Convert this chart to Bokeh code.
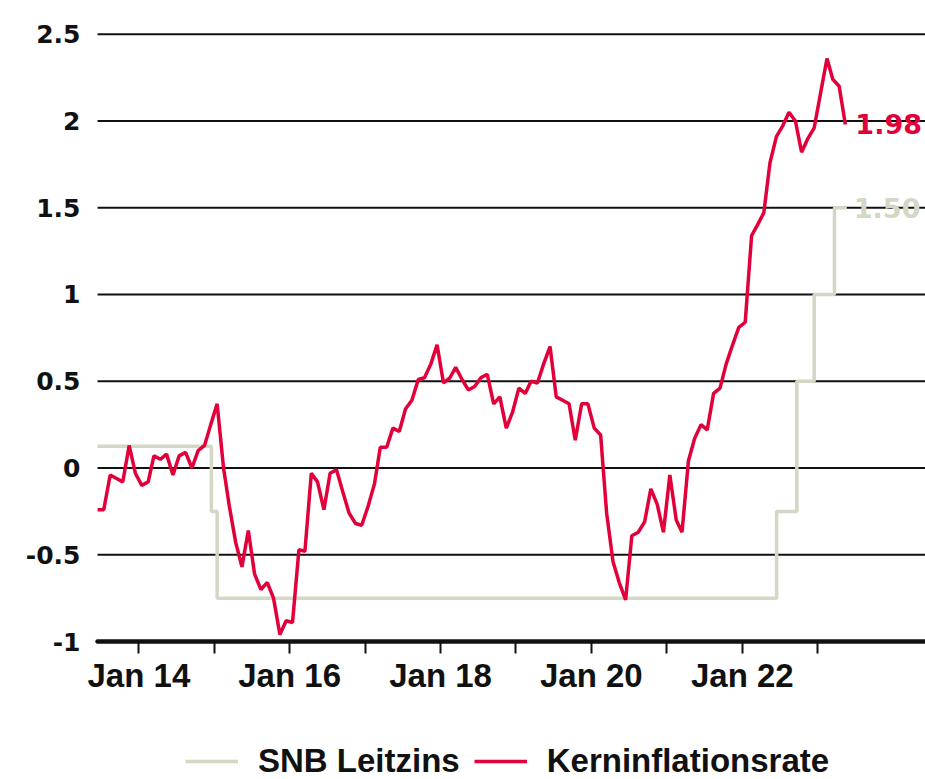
import pandas as pd
from bokeh.plotting import figure
from bokeh.models import FixedTicker, Legend, LegendItem, Range1d, DatetimeAxis
from bokeh.embed import file_html
from bokeh.resources import INLINE
from bokeh.core.properties import value

# ---------------- data ----------------
core_start = "2013-06-01"   # monthly values, plotted mid-month
core_inflation = [
    -0.24, -0.24, -0.04, -0.06, -0.08, 0.13, -0.03,                                   # 2013 Jun-Dec
    -0.10, -0.08, 0.07, 0.05, 0.08, -0.04, 0.07, 0.09, 0.00, 0.10, 0.13, 0.25,          # 2014
    0.37, 0.00, -0.22, -0.43, -0.57, -0.36, -0.61, -0.70, -0.66, -0.75, -0.96, -0.88,   # 2015
    -0.89, -0.47, -0.48, -0.03, -0.08, -0.24, -0.03, -0.01, -0.14, -0.26, -0.32, -0.33, # 2016
    -0.22, -0.09, 0.12, 0.12, 0.23, 0.21, 0.34, 0.39, 0.51, 0.52, 0.60, 0.71,           # 2017
    0.49, 0.52, 0.58, 0.51, 0.45, 0.47, 0.52, 0.54, 0.37, 0.41, 0.23, 0.32,             # 2018
    0.46, 0.43, 0.50, 0.49, 0.60, 0.70, 0.41, 0.39, 0.37, 0.16, 0.37, 0.37,             # 2019
    0.23, 0.19, -0.26, -0.54, -0.66, -0.76, -0.39, -0.37, -0.31, -0.12, -0.21, -0.37,   # 2020
    -0.04, -0.30, -0.37, 0.04, 0.17, 0.25, 0.22, 0.43, 0.46, 0.60, 0.71, 0.81,          # 2021
    0.84, 1.34, 1.40, 1.47, 1.76, 1.91, 1.97, 2.05, 2.00, 1.82, 1.90, 1.96,             # 2022
    2.16, 2.36, 2.24, 2.20, 1.98,                                                       # 2023 Jan-May
]
snb_dates = ["2013-06-15", "2014-12-18", "2015-01-15", "2022-06-16",
             "2022-09-22", "2022-12-15", "2023-03-23", "2023-05-22"]
snb_rate = [0.125, -0.25, -0.75, -0.25, 0.5, 1.0, 1.5, 1.5]

tick_years = [2014, 2015, 2016, 2017, 2018, 2019, 2020, 2021, 2022, 2023]
tick_labels = ["Jan 14", "", "Jan 16", "", "Jan 18", "", "Jan 20", "", "Jan 22", ""]
y_ticks = [-1, -0.5, 0, 0.5, 1, 1.5, 2, 2.5]
y_tick_labels = ["-1", "-0.5", "0", "0.5", "1", "1.5", "2", "2.5"]
x_start, x_end = "2013-04-03", "2024-06-06"
y_axis_floor = -1.0
y_start, y_end = -1.795, 2.55   # extra room below the axis for tick labels and legend

series_names = ["SNB Leitzins", "Kerninflationsrate"]

# ---------------- styles ----------------
RED = "#E2003B"
GREY = "#D2D8C4"
INK = "#111111"

core_dates = pd.date_range(core_start, periods=len(core_inflation), freq="MS") + pd.Timedelta(days=14)
snb_x = pd.to_datetime(snb_dates)

p = figure(width=925, height=779, x_axis_type="datetime", x_axis_location=None,
           x_range=Range1d(pd.Timestamp(x_start), pd.Timestamp(x_end)),
           y_range=Range1d(y_start, y_end),
           output_backend="svg", toolbar_location=None,
           min_border_left=82, min_border_right=0, min_border_top=25, min_border_bottom=0,
           background_fill_color="white", border_fill_color="white", outline_line_color=None)

# horizontal grid lines, spanning the data period to the right edge
n = len(y_ticks)
p.segment(x0=[core_dates[0]] * n, x1=[pd.Timestamp(x_end)] * n, y0=y_ticks, y1=y_ticks,
          line_color=INK, line_width=2)

grey = p.step(x=snb_x, y=snb_rate, mode="after", line_color=GREY, line_width=3.5)
red = p.line(x=core_dates, y=core_inflation, line_color=RED, line_width=3.5)

p.text(x=[core_dates[-1]], y=[core_inflation[-1]], text=[f"{core_inflation[-1]:.2f}"],
       x_offset=10, text_baseline="middle", text_align="left",
       text_font=value("DejaVu Sans"), text_font_style="bold", text_font_size="27px", text_color=RED)
p.text(x=[snb_x[-1]], y=[snb_rate[-1]], text=[f"{snb_rate[-1]:.2f}"],
       x_offset=7, text_baseline="middle", text_align="left",
       text_font=value("DejaVu Sans"), text_font_style="bold", text_font_size="27px", text_color=GREY)

# x axis, pinned at y = -1
tick_ms = [int(pd.Timestamp(f"{y}-01-01").value // 10**6) for y in tick_years]
xa = DatetimeAxis(fixed_location=y_axis_floor)
xa.ticker = FixedTicker(ticks=tick_ms)
xa.major_label_overrides = {t: l for t, l in zip(tick_ms, tick_labels)}
xa.bounds = (int(core_dates[0].value // 10**6), int(pd.Timestamp(x_end).value // 10**6))
xa.axis_line_color = INK
xa.axis_line_width = 4.5
xa.axis_line_cap = "round"
xa.major_tick_out = 12
xa.major_tick_in = 0
xa.major_tick_line_width = 2
xa.major_tick_line_color = INK
xa.minor_tick_line_color = None
xa.major_label_standoff = 3
xa.major_label_text_font = "Liberation Sans"
xa.major_label_text_font_style = "bold"
xa.major_label_text_font_size = "33px"
xa.major_label_text_color = INK
p.add_layout(xa, "below")

# y axis
ya = p.yaxis[0]
ya.ticker = FixedTicker(ticks=y_ticks)
ya.major_label_overrides = {t: l for t, l in zip(y_ticks, y_tick_labels)}
ya.axis_line_color = None
ya.major_tick_line_color = None
ya.minor_tick_line_color = None
ya.major_tick_out = 0
ya.major_tick_in = 0
ya.major_label_standoff = 2
ya.major_label_text_font = "DejaVu Sans"
ya.major_label_text_font_style = "bold"
ya.major_label_text_font_size = "25px"
ya.major_label_text_color = INK

p.xgrid.grid_line_color = None
p.ygrid.grid_line_color = None

legend = Legend(items=[LegendItem(label=series_names[0], renderers=[grey]),
                       LegendItem(label=series_names[1], renderers=[red])],
                orientation="horizontal", location=(103, -1),
                border_line_color=None, background_fill_alpha=0,
                label_text_font="Liberation Sans", label_text_font_style="bold",
                label_text_font_size="33px", label_text_color=INK,
                glyph_width=53, glyph_height=20, label_standoff=20, spacing=14,
                padding=0, margin=0)
p.add_layout(legend, "center")

open("out.html", "w").write(file_html(p, INLINE))
